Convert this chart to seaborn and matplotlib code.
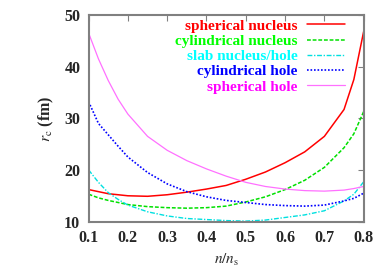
import numpy as np
import pandas as pd
import matplotlib
matplotlib.use("Agg")
import matplotlib.pyplot as plt
import seaborn as sns

n_ratio = [0.1, 0.125, 0.15, 0.175, 0.2, 0.25, 0.3, 0.35, 0.4, 0.45,
           0.5, 0.55, 0.6, 0.65, 0.7, 0.75, 0.775, 0.8]

# r_c (fm) for each pasta phase
sph_nucleus = [16.2, 15.8, 15.4, 15.2, 15.0, 14.9, 15.2, 15.7, 16.3, 17.0,
               18.2, 19.6, 21.4, 23.5, 26.5, 31.7, 37.5, 46.8]
cyl_nucleus = [15.3, 14.6, 14.1, 13.7, 13.3, 12.9, 12.7, 12.6, 12.7, 13.0,
               13.8, 14.8, 16.2, 18.0, 20.5, 24.3, 27.0, 31.3]
slab = [20.0, 17.6, 15.6, 14.3, 13.2, 11.9, 11.1, 10.6, 10.4, 10.2,
        10.1, 10.3, 10.8, 11.3, 12.1, 14.0, 15.3, 17.7]
cyl_hole = [33.2, 29.0, 26.8, 24.6, 22.5, 19.5, 17.3, 15.8, 14.8, 14.1,
            13.7, 13.3, 13.1, 13.0, 13.2, 14.0, 14.5, 15.5]
sph_hole = [46.5, 41.5, 37.3, 33.7, 30.8, 26.5, 23.8, 21.8, 20.2, 18.8,
            17.6, 16.8, 16.3, 16.0, 15.9, 16.1, 16.4, 16.8]

labels = ["spherical nucleus", "cylindrical nucleus", "slab nucleus/hole",
          "cylindrical hole", "spherical hole"]
x_ticks = [0.1, 0.2, 0.3, 0.4, 0.5, 0.6, 0.7, 0.8]
y_ticks = [10, 20, 30, 40, 50]

sns.set_theme(style="white")
plt.rcParams['font.family'] = ['Liberation Serif', 'DejaVu Serif']
plt.rcParams['mathtext.fontset'] = 'stix'

series = [sph_nucleus, cyl_nucleus, slab, cyl_hole, sph_hole]
colors = ['#ff0000', '#00e000', '#00e0e0', '#0000ff', '#ff70ff']
styles = ['-', (0, (2.5, 1.2)), (0, (3.5, 1.2, 1, 1.2)), (0, (1, 1.1)), '-']
widths = [1.1, 1.1, 1.0, 1.2, 0.9]

fig = plt.figure(figsize=(3.82, 2.67), dpi=100)
ax = fig.add_axes([0.232, 0.170, 0.720, 0.774])

for vals, lab, col, ls, lw in zip(series, labels, colors, styles, widths):
    sns.lineplot(x=n_ratio, y=vals, ax=ax, color=col, linestyle=ls,
                 linewidth=lw, label=lab)

ax.set_xlim(0.1, 0.8)
ax.set_ylim(10, 50)
ax.set_xticks(x_ticks)
ax.set_yticks(y_ticks)
ax.set_xticklabels([f"{t:.1f}" for t in x_ticks], fontweight='bold', fontsize=11.5)
ax.set_yticklabels([str(t) for t in y_ticks], fontweight='bold', fontsize=11.5)
ax.tick_params(direction='in', length=4, width=0.8, color='#808080',
               top=True, right=True, pad=6)
for s in ax.spines.values():
    s.set_color('#808080')
    s.set_linewidth(1.5)

ax.set_xlabel(r'$n/n_{\mathrm{s}}$', fontsize=11, labelpad=4)
ax.set_ylabel(r'$r_{\mathrm{c}}$ (fm)', fontsize=11.5, fontweight='bold', labelpad=6)

leg = ax.legend(loc='upper right', bbox_to_anchor=(345 / 382, 1 - 19 / 267),
                bbox_transform=fig.transFigure, frameon=False, markerfirst=False,
                handlelength=2.5, handletextpad=0.6, labelspacing=0.1,
                borderpad=0, borderaxespad=0,
                prop={'weight': 'bold', 'size': 11})
for t, c in zip(leg.get_texts(), ['#ff0000', '#00ff00', '#00ffff', '#0000ff', '#ff00ff']):
    t.set_color(c)

fig.savefig('out.png', dpi=100)
